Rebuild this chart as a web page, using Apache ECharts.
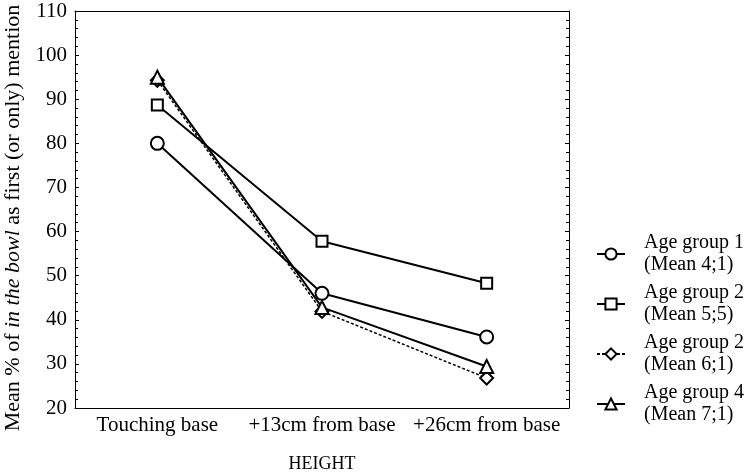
<!DOCTYPE html>
<html>
<head>
<meta charset="utf-8">
<script src="https://cdn.jsdelivr.net/npm/echarts@6/dist/echarts.min.js"></script>
<style>
  html, body { margin: 0; padding: 0; background: #fff; }
  #main { width: 754px; height: 474px; }
</style>
</head>
<body>
<div id="main"></div>
<script>
var categories = ["Touching base", "+13cm from base", "+26cm from base"];
var group1 = [80, 46, 36.1];
var group2 = [88.7, 57.8, 48.3];
var group3 = [94.3, 41.9, 26.8];
var group4 = [95, 42.8, 29.4];
var seriesNames = [
  "Age group 1\n(Mean 4;1)",
  "Age group 2\n(Mean 5;5)",
  "Age group 2\n(Mean 6;1)",
  "Age group 4\n(Mean 7;1)"
];

var FONT = "Liberation Serif";

function lineSeries(name, data, symbol, size, lineType, width) {
  return {
    name: name,
    type: "line",
    data: data,
    symbol: symbol,
    symbolSize: size,
    showSymbol: true,
    itemStyle: { color: "#fff", borderColor: "#000", borderWidth: 2 },
    lineStyle: { color: "#000", width: width, type: lineType },
    emphasis: { disabled: true },
    z: 3
  };
}

var chartDom = document.getElementById("main");
var myChart = echarts.init(chartDom, null, { renderer: "canvas" });

var option = {
  animation: false,
  textStyle: { fontFamily: FONT, color: "#000" },
  grid: { left: 75, right: 185, top: 11, bottom: 66, outerBoundsMode: "none", containLabel: false },
  legend: {
    orient: "vertical",
    left: 591,
    top: 216,
    itemWidth: 28,
    itemHeight: 14,
    itemGap: -16,
    data: seriesNames,
    textStyle: {
      fontFamily: FONT,
      fontSize: 20,
      lineHeight: 22,
      color: "#000",
      padding: [22, 0, 0, 14]
    }
  },
  xAxis: [
    {
      type: "category",
      data: categories,
      boundaryGap: true,
      name: "HEIGHT",
      nameLocation: "middle",
      nameGap: 47,
      nameTextStyle: { fontFamily: FONT, fontSize: 18, color: "#000" },
      axisLine: { lineStyle: { color: "#000", width: 1 } },
      axisTick: { inside: true, alignWithLabel: true, length: 4, lineStyle: { color: "#000" } },
      axisLabel: { interval: 0, fontFamily: FONT, fontSize: 21, color: "#000", margin: 7 },
      splitLine: { show: false }
    },
    {
      type: "category",
      data: categories,
      position: "top",
      axisLine: { lineStyle: { color: "#000", width: 1 } },
      axisTick: { show: false },
      axisLabel: { show: false },
      splitLine: { show: false }
    }
  ],
  yAxis: [
    {
      type: "value",
      min: 20,
      max: 110,
      interval: 10,
      name: "{n|Mean % of }{i|in the bowl}{n| as first (or only) mention}",
      nameLocation: "middle",
      nameGap: 46,
      nameRotate: 90,
      nameTextStyle: {
        padding: [0, 17, 0, 0],
        rich: {
          n: { fontFamily: FONT, fontSize: 22, color: "#000" },
          i: { fontFamily: FONT, fontSize: 22, fontStyle: "italic", color: "#000" }
        }
      },
      axisLine: { show: true, lineStyle: { color: "#000", width: 1 } },
      axisTick: { show: true, inside: true, length: 4, lineStyle: { color: "#000" } },
      minorTick: { show: true, splitNumber: 5, length: 3, lineStyle: { color: "#000" } },
      axisLabel: { fontFamily: FONT, fontSize: 21, color: "#000", margin: 8 },
      splitLine: { show: false }
    },
    {
      type: "value",
      min: 20,
      max: 110,
      interval: 10,
      position: "right",
      axisLine: { show: true, lineStyle: { color: "#000", width: 1 } },
      axisTick: { show: true, inside: true, length: 4, lineStyle: { color: "#000" } },
      minorTick: { show: true, splitNumber: 5, length: 3, lineStyle: { color: "#000" } },
      axisLabel: { show: false },
      splitLine: { show: false }
    }
  ],
  series: [
    lineSeries(seriesNames[0], group1, "circle", 13, "solid", 2),
    lineSeries(seriesNames[1], group2, "rect", 11, "solid", 2),
    lineSeries(seriesNames[2], group3, "diamond", 13, [3, 2], 1.5),
    lineSeries(seriesNames[3], group4, "triangle", 13, "solid", 2)
  ]
};

option && myChart.setOption(option);
</script>
</body>
</html>
